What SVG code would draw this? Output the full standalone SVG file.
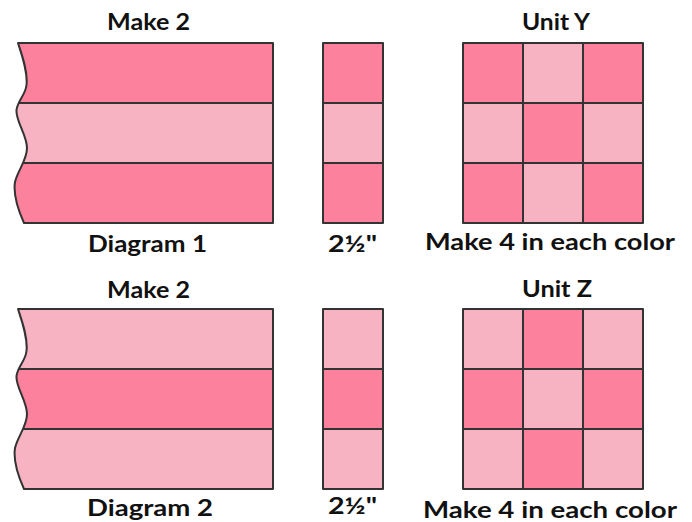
<svg xmlns="http://www.w3.org/2000/svg" width="692" height="522" viewBox="0 0 692 522">
<style>
.d{fill:#FC819C}
.l{fill:#F7B3C2}
.s{fill:none;stroke:#333333;stroke-width:2;stroke-linejoin:round}
.t{font-family:Lato,"Liberation Sans",sans-serif;font-weight:700;font-size:23px;fill:#111111;text-anchor:middle}
</style>
<defs>
<path id="wave" d="M18,43 C22,55 28,72 26.5,85 C25.5,95 18,100 16.5,110 C15.5,121 27,135 27,148 C27,160 18,170 15,182 C13,195 19,212 24,223 L273,223 L273,43 Z"/>
<clipPath id="wc"><use href="#wave"/></clipPath>
</defs>
<rect width="692" height="522" fill="#ffffff"/>

<g id="diagram1">
<g clip-path="url(#wc)">
<rect class="d" x="0" y="43" width="280" height="60"/>
<rect class="l" x="0" y="103" width="280" height="60"/>
<rect class="d" x="0" y="163" width="280" height="60"/>
<path class="s" d="M0,103 H273 M0,163 H273"/>
</g>
<use href="#wave" class="s"/>
</g>

<g id="strip1">
<rect class="d" x="323" y="43" width="60" height="60"/>
<rect class="l" x="323" y="103" width="60" height="60"/>
<rect class="d" x="323" y="163" width="60" height="60"/>
<path class="s" d="M323,43 H383 V223 H323 Z M323,103 H383 M323,163 H383"/>
</g>

<g id="unitY">
<rect class="d" x="463" y="43" width="60" height="60"/>
<rect class="l" x="523" y="43" width="60" height="60"/>
<rect class="d" x="583" y="43" width="60" height="60"/>
<rect class="l" x="463" y="103" width="60" height="60"/>
<rect class="d" x="523" y="103" width="60" height="60"/>
<rect class="l" x="583" y="103" width="60" height="60"/>
<rect class="d" x="463" y="163" width="60" height="60"/>
<rect class="l" x="523" y="163" width="60" height="60"/>
<rect class="d" x="583" y="163" width="60" height="60"/>
<path class="s" d="M463,43 H643 V223 H463 Z M463,103 H643 M463,163 H643 M523,43 V223 M583,43 V223"/>
</g>

<g id="diagram2" transform="translate(0,266)">
<g clip-path="url(#wc)">
<rect class="l" x="0" y="43" width="280" height="60"/>
<rect class="d" x="0" y="103" width="280" height="60"/>
<rect class="l" x="0" y="163" width="280" height="60"/>
<path class="s" d="M0,103 H273 M0,163 H273"/>
</g>
<use href="#wave" class="s"/>
</g>

<g id="strip2">
<rect class="l" x="323" y="309" width="60" height="60"/>
<rect class="d" x="323" y="369" width="60" height="60"/>
<rect class="l" x="323" y="429" width="60" height="60"/>
<path class="s" d="M323,309 H383 V489 H323 Z M323,369 H383 M323,429 H383"/>
</g>

<g id="unitZ">
<rect class="l" x="463" y="309" width="60" height="60"/>
<rect class="d" x="523" y="309" width="60" height="60"/>
<rect class="l" x="583" y="309" width="60" height="60"/>
<rect class="d" x="463" y="369" width="60" height="60"/>
<rect class="l" x="523" y="369" width="60" height="60"/>
<rect class="d" x="583" y="369" width="60" height="60"/>
<rect class="l" x="463" y="429" width="60" height="60"/>
<rect class="d" x="523" y="429" width="60" height="60"/>
<rect class="l" x="583" y="429" width="60" height="60"/>
<path class="s" d="M463,309 H643 V489 H463 Z M463,369 H643 M463,429 H643 M523,309 V489 M583,309 V489"/>
</g>

<g id="labels">
<text class="t" x="148.5" y="30" textLength="83" lengthAdjust="spacingAndGlyphs">Make 2</text>
<text class="t" x="556" y="30" textLength="68" lengthAdjust="spacingAndGlyphs">Unit Y</text>
<text class="t" x="147.5" y="252" textLength="119" lengthAdjust="spacingAndGlyphs">Diagram 1</text>
<text class="t" x="352.5" y="252" textLength="49" lengthAdjust="spacingAndGlyphs">2½"</text>
<text class="t" x="550" y="250" textLength="250" lengthAdjust="spacingAndGlyphs">Make 4 in each color</text>
<text class="t" x="148.5" y="298" textLength="83" lengthAdjust="spacingAndGlyphs">Make 2</text>
<text class="t" x="557" y="297" textLength="70" lengthAdjust="spacingAndGlyphs">Unit Z</text>
<text class="t" x="150" y="516" textLength="126" lengthAdjust="spacingAndGlyphs">Diagram 2</text>
<text class="t" x="352.5" y="514" textLength="49" lengthAdjust="spacingAndGlyphs">2½"</text>
<text class="t" x="550" y="518" textLength="254" lengthAdjust="spacingAndGlyphs">Make 4 in each color</text>
</g>
</svg>
